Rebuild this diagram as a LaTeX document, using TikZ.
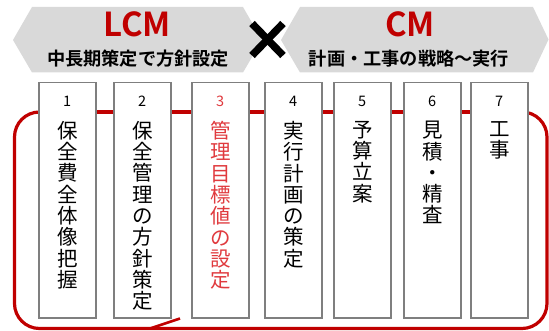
\documentclass[tikz,border=0pt]{standalone}
\usepackage{fontspec}
\usetikzlibrary{calc}
\newfontfamily\jp[BoldFont={Noto Sans CJK JP Bold}]{Noto Sans CJK JP}
\definecolor{bannergray}{HTML}{D9D9D9}
\definecolor{darkred}{HTML}{C00000}
\definecolor{brightred}{HTML}{E03A3E}
\definecolor{boxgray}{HTML}{7F7F7F}
\tikzset{
  banner/.style={fill=bannergray, draw=none},
  stepbox/.style={draw=boxgray, line width=1.5pt, fill=white, minimum width=57pt, minimum height=235pt, inner sep=0pt, anchor=north west},
  numlabel/.style={font=\jp\fontsize{14.5}{16}\selectfont, inner sep=0pt, anchor=center},
  vtext/.style={font=\jp\fontsize{20.5}{21.3}\selectfont, align=center, inner sep=0pt, anchor=north},
  title/.style={font=\jp\bfseries\fontsize{33}{36}\selectfont, text=darkred, inner sep=0pt},
  subtitle/.style={font=\jp\bfseries\fontsize{18.2}{20}\selectfont, text=black, inner sep=0pt},
  redloop/.style={draw=darkred, line width=3.2pt},
}
\begin{document}
\begin{tikzpicture}[x=1pt,y=-1pt]
\useasboundingbox (0,0) rectangle (549,331);
% banners
\path[banner] (13,40) -- (32,7) -- (243,7) -- (262,40) -- (243,72.5) -- (32,72.5) -- cycle;
\path[banner] (281,40) -- (300,7) -- (533,7) -- (548.5,39.5) -- (533,72.5) -- (300,72.5) -- cycle;
\node[title] (lcm) at (137,24.5) {LCM};
\node[subtitle] (lcmsub) at (138,59) {中長期策定で方針設定};
\node[title] (cm) at (410,24.5) {CM};
\node[subtitle] (cmsub) at (409,59) {計画・工事の戦略～実行};
% cross
\coordinate (xc) at (267.5,39.5);
\draw[line width=7.5pt] ($(xc)+(-15.5,-16)$) -- ($(xc)+(15.5,16)$);
\draw[line width=7.5pt] ($(xc)+(15.5,-16)$) -- ($(xc)+(-15.5,16)$);
% red loop (behind boxes)
\coordinate (ls) at (38,112);
\coordinate (re) at (527,112);
\coordinate (bl) at (14.5,328.5);
\coordinate (tr) at (547,112);
\draw[redloop] (ls) -- (re);
\draw[redloop, rounded corners=25pt] (ls) -| (bl) -| (tr) -- (re);
\coordinate (tipA) at (150,328.5);
\coordinate (tipB) at (180,318.5);
\draw[redloop, line width=2.6pt] (tipA) -- (tipB);
% boxes
\node[stepbox] (b1) at (38,82) {};
\node[stepbox] (b2) at (113,82) {};
\node[stepbox] (b3) at (191,82) {};
\node[stepbox] (b4) at (264,82) {};
\node[stepbox] (b5) at (333,82) {};
\node[stepbox] (b6) at (403,82) {};
\node[stepbox] (b7) at (470,82) {};
% numbers
\node[numlabel] (n1) at ($(b1.north)+(0,19.5)$) {1};
\node[numlabel] (n2) at ($(b2.north)+(0,19.5)$) {2};
\node[numlabel, text=brightred] (n3) at ($(b3.north)+(0,19.5)$) {3};
\node[numlabel] (n4) at ($(b4.north)+(0,19.5)$) {4};
\node[numlabel] (n5) at ($(b5.north)+(0,19.5)$) {5};
\node[numlabel] (n6) at ($(b6.north)+(0,19.5)$) {6};
\node[numlabel] (n7) at ($(b7.north)+(0,19.5)$) {7};
% vertical texts
\node[vtext] (t1) at ($(b1.north)+(0,39)$) {保\\全\\費\\全\\体\\像\\把\\握};
\node[vtext] (t2) at ($(b2.north)+(0,39)$) {保\\全\\管\\理\\の\\方\\針\\策\\定};
\node[vtext, text=brightred] (t3) at ($(b3.north)+(0,39)$) {管\\理\\目\\標\\値\\の\\設\\定};
\node[vtext] (t4) at ($(b4.north)+(0,39)$) {実\\行\\計\\画\\の\\策\\定};
\node[vtext] (t5) at ($(b5.north)+(0,39)$) {予\\算\\立\\案};
\node[vtext] (t6) at ($(b6.north)+(0,39)$) {見\\積\\・\\精\\査};
\node[vtext] (t7) at ($(b7.north)+(0,39)$) {工\\事};
\end{tikzpicture}
\end{document}
